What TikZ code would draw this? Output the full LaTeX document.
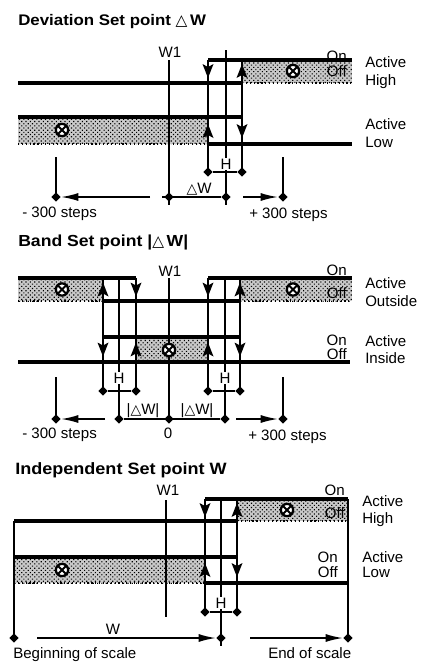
\documentclass[tikz,border=0pt]{standalone}
\usepackage{fontspec}
\setmainfont{Liberation Sans}
\newfontfamily\ttlfont[FakeStretch=1.1]{Liberation Sans}
\newfontfamily\trifont{DejaVu Sans}
\usetikzlibrary{arrows.meta,shapes.geometric,patterns.meta}
\newcommand\mytri[1][10.5]{{\trifont\fontsize{#1}{#1}\selectfont\symbol{"25B3}}}
\newcommand\arrdn[2]{\fill (#1-5.5,#2-7) -- (#1,#2-4) -- (#1+5.5,#2-7) -- (#1,#2+7) -- cycle;}
\newcommand\arrup[2]{\fill (#1-5.5,#2+7) -- (#1,#2+4) -- (#1+5.5,#2+7) -- (#1,#2-7) -- cycle;}
\newcommand\stipbox[4]{%
  \fill[gray!42] (#1,#2) rectangle (#3,#4);
  \fill[pattern={Dots[distance=2.3pt,radius=0.6pt,angle=45]},pattern color=black] (#1,#2) rectangle (#3,#4);
  \draw[dotted,line width=0.9pt] (#1,#2) -- (#3,#2) (#1,#4) -- (#3,#4);}
\tikzset{
  thinl/.style={line width=1.35pt},
  thickl/.style={line width=3pt},
  lbl/.style={font=\fontsize{11.3}{12}\selectfont, inner sep=0pt},
  hlbl/.style={lbl, fill=white, inner sep=0.8pt},
  ttl/.style={font=\ttlfont\bfseries\fontsize{#1}{14}\selectfont, inner sep=0pt, anchor=base west},
  jdot/.style={diamond, fill=black, inner sep=0pt, minimum size=7pt},
  sarrow/.style={thinl, -{Latex[length=13pt,width=6pt]}},
  lamp/.pic={
    \filldraw[fill=white, line width=1.7pt] (0,0) circle[radius=4.6pt];
    \draw[line width=1.5pt] (-3.2pt,-3.2pt) -- (3.2pt,3.2pt) (-3.2pt,3.2pt) -- (3.2pt,-3.2pt);
  }
}
\begin{document}
\begin{tikzpicture}[x=0.75pt,y=-0.75pt]
\useasboundingbox[fill=white] (0,0) rectangle (427,668);

% ================= Section 1: Deviation =================
\node[ttl=11.5] (t1) at (18,25) {Deviation Set point \mytri[11.5]\,W};
\stipbox{242}{59.5}{352}{83}
\stipbox{18}{117}{208}{144}
\node[lbl, anchor=base] (w1a) at (170,57) {W1};
\draw[thinl] (169,60) -- (169,205);
\draw[thinl] (226,50) -- (226,205);
\draw[thinl] (208,59.5) -- (208,172);
\draw[thinl] (242,59.5) -- (242,172);
\draw[thickl] (18,83) -- (242,83);
\draw[thickl] (208,59.5) -- (352,59.5);
\draw[thickl] (18,117) -- (242,117);
\draw[thickl] (208,144) -- (352,144);
\arrdn{208}{71} \arrup{242}{71}
\arrup{208}{131} \arrdn{242}{131}
\pic at (293,71) {lamp};
\pic at (62,130) {lamp};
\node[lbl, anchor=base east] (on1) at (347,61) {On};
\node[lbl, anchor=base east] (off1) at (347,76) {Off};
\node[lbl, anchor=base west] (ah1) at (365,67) {Active};
\node[lbl, anchor=base west] (ah2) at (365,85) {High};
\node[lbl, anchor=base west] (al1) at (365,129.5) {Active};
\node[lbl, anchor=base west] (al2) at (365,147) {Low};
\node[hlbl, anchor=base] (h1) at (226,169) {H};
\node[jdot] (h1a) at (208,172) {};
\node[jdot] (h1b) at (242,172) {};
\draw[thinl] (h1a) -- (h1b);
% scale
\draw[thinl] (56,157) -- (56,197);
\draw[thinl] (283,157) -- (283,197);
\node[jdot] (s1l) at (56,197) {};
\node[jdot] (s1w) at (169,197) {};
\node[jdot] (s1m) at (226,197) {};
\node[jdot] (s1r) at (283,197) {};
\coordinate (s1la) at (150,197);
\coordinate (s1lb) at (162,197);
\coordinate (s1ra) at (243,197);
\draw[sarrow] (s1la) -- (s1l);
\draw[thinl] (s1lb) -- (s1m);
\draw[sarrow] (s1ra) -- (s1r);
\node[lbl, anchor=base] (dw1) at (199,193) {\mytri W};
\node[lbl, anchor=base west] (m1) at (22,217) {- 300 steps};
\node[lbl, anchor=base west] (p1) at (249,218) {+ 300 steps};

% ================= Section 2: Band =================
\node[ttl=12] (t2) at (18,246) {Band Set point |\mytri[11.5]\,W|};
\stipbox{18}{278}{103}{301}
\stipbox{240}{278}{352}{301}
\stipbox{136}{337}{208}{362}
\node[lbl, anchor=base] (w1b) at (170,276) {W1};
\draw[thinl] (169,278) -- (169,423);
\foreach \xx in {103,136,208,240} {\draw[thinl] (\xx,278) -- (\xx,391);}
\foreach \xx in {119,225} {\draw[thinl] (\xx,278) -- (\xx,419);}
\draw[thickl] (18,278) -- (136,278);
\draw[thickl] (208,278) -- (352,278);
\draw[thickl] (103,301) -- (240,301);
\draw[thickl] (103,337) -- (240,337);
\draw[thickl] (18,362) -- (350,362);
\arrup{103}{289.5} \arrdn{136}{289.5} \arrdn{208}{289.5} \arrup{240}{289.5}
\arrdn{103}{349.5} \arrup{136}{349.5} \arrup{208}{349.5} \arrdn{240}{349.5}
\pic at (62,289.5) {lamp};
\pic at (293,289.5) {lamp};
\pic at (169,350) {lamp};
\node[lbl, anchor=base east] (on2) at (347,275) {On};
\node[lbl, anchor=base east] (off2) at (347,298) {Off};
\node[lbl, anchor=base west] (ao1) at (365,288) {Active};
\node[lbl, anchor=base west] (ao2) at (365,306) {Outside};
\node[lbl, anchor=base east] (on3) at (347,345) {On};
\node[lbl, anchor=base east] (off3) at (347,359) {Off};
\node[lbl, anchor=base west] (ai1) at (365,346) {Active};
\node[lbl, anchor=base west] (ai2) at (365,363) {Inside};
\node[hlbl, anchor=base] (h2) at (119,383) {H};
\node[hlbl, anchor=base] (h3) at (225,383) {H};
\node[jdot] (h2a) at (103,391) {};
\node[jdot] (h2b) at (136,391) {};
\node[jdot] (h3a) at (208,391) {};
\node[jdot] (h3b) at (240,391) {};
\draw[thinl] (h2a) -- (h2b);
\draw[thinl] (h3a) -- (h3b);
% scale
\draw[thinl] (56,377) -- (56,419);
\draw[thinl] (283,377) -- (283,419);
\node[jdot] (s2l) at (56,419) {};
\node[jdot] (s2a) at (119,419) {};
\node[jdot] (s2w) at (169,419) {};
\node[jdot] (s2b) at (225,419) {};
\node[jdot] (s2r) at (283,419) {};
\coordinate (s2la) at (105,419);
\coordinate (s2ra) at (236,419);
\draw[sarrow] (s2la) -- (s2l);
\draw[thinl] (s2a) -- (s2b);
\draw[sarrow] (s2ra) -- (s2r);
\node[lbl, anchor=base] (dw2) at (143,414) {|\mytri W|};
\node[lbl, anchor=base] (dw3) at (197,414) {|\mytri W|};
\node[lbl, anchor=base west] (m2) at (22,438) {- 300 steps};
\node[lbl, anchor=base] (z2) at (168,438) {0};
\node[lbl, anchor=base west] (p2) at (248,440) {+ 300 steps};

% ================= Section 3: Independent =================
\node[ttl=12.3] (t3) at (15,474) {Independent Set point W};
\stipbox{237}{499}{348}{521}
\stipbox{14}{557}{205}{583}
\node[lbl, anchor=base] (w1c) at (168,495) {W1};
\draw[thinl] (166,500) -- (166,617);
\draw[thinl] (205,499) -- (205,612);
\draw[thinl] (221,499) -- (221,646);
\draw[thinl] (237,499) -- (237,612);
\draw[thinl] (14,521) -- (14,638);
\draw[thinl] (348,499) -- (348,638);
\draw[thickl] (205,499) -- (348,499);
\draw[thickl] (14,521) -- (237,521);
\draw[thickl] (14,557) -- (237,557);
\draw[thickl] (205,583) -- (348,583);
\arrdn{205}{510} \arrup{237}{510}
\arrup{205}{570} \arrdn{237}{570}
\pic at (287,510) {lamp};
\pic at (62,570) {lamp};
\node[lbl, anchor=base east] (on4) at (345,495) {On};
\node[lbl, anchor=base east] (off4) at (345,518) {Off};
\node[lbl, anchor=base west] (ah3) at (362,506) {Active};
\node[lbl, anchor=base west] (ah4) at (362,523) {High};
\node[lbl, anchor=base east] (on5) at (338,562) {On};
\node[lbl, anchor=base east] (off5) at (338,577) {Off};
\node[lbl, anchor=base west] (al3) at (362,562) {Active};
\node[lbl, anchor=base west] (al4) at (362,577) {Low};
\node[hlbl, anchor=base] (h4) at (221,608) {H};
\node[jdot] (h4a) at (205,612) {};
\node[jdot] (h4b) at (237,612) {};
\draw[thinl] (h4a) -- (h4b);
% scale
\node[jdot] (s3l) at (14,638) {};
\node[jdot] (s3m) at (221,638) {};
\node[jdot] (s3r) at (348,638) {};
\coordinate (s3la) at (37,638);
\coordinate (s3ra) at (250,638);
\draw[sarrow] (s3la) -- (s3m);
\draw[sarrow] (s3ra) -- (s3r);
\node[lbl, anchor=base] (wl) at (113,634) {W};
\node[lbl, anchor=base west] (bs) at (13,658) {Beginning of scale};
\node[lbl, anchor=base west] (es) at (268,658) {End of scale};
\end{tikzpicture}
\end{document}
